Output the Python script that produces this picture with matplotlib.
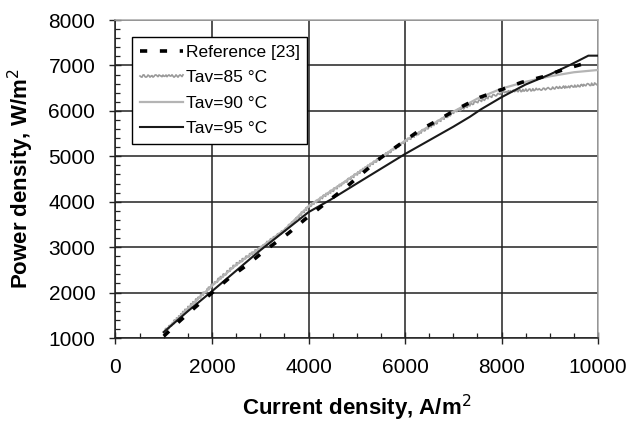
import matplotlib
matplotlib.use("Agg")
import matplotlib.pyplot as plt
from matplotlib.ticker import MultipleLocator

plt.rcParams['font.family'] = ['Liberation Sans', 'DejaVu Sans']

# Reference [23]
ref_x = [1000, 1337, 1650, 2027, 2373, 2753, 3064, 3582, 3927, 4792, 5482, 6311, 6690, 7071, 7555, 8419, 8866, 9316, 9731, 9850]
ref_y = [1040, 1380, 1676, 2019, 2336, 2629, 2900, 3304, 3613, 4331, 4955, 5578, 5798, 6034, 6298, 6628, 6752, 6921, 7046, 7070]

# Tav = 85 °C
t85_x = [1000, 1500, 2000, 2500, 3000, 3500, 4000, 5000, 6000, 7000, 7500, 8000, 8300, 8700, 9000, 9500, 10000]
t85_y = [1130, 1660, 2160, 2620, 2990, 3370, 3890, 4610, 5330, 5960, 6200, 6400, 6440, 6470, 6495, 6540, 6600]

# Tav = 90 °C
t90_x = [1000, 1500, 2000, 2500, 3000, 3500, 4000, 5000, 6000, 7000, 7500, 8000, 8500, 9000, 9500, 10000]
t90_y = [1130, 1650, 2150, 2610, 2990, 3380, 3900, 4620, 5340, 5980, 6270, 6490, 6640, 6760, 6850, 6900]

# Tav = 95 °C
t95_x = [1000, 1500, 2000, 3000, 4000, 4446, 5000, 6000, 7000, 7347, 7575, 8000, 8500, 9000, 9420, 9800, 10000]
t95_y = [1130, 1590, 2030, 2930, 3770, 4037, 4400, 5050, 5650, 5871, 6034, 6300, 6580, 6800, 7010, 7215, 7215]

x_ticks = [0, 2000, 4000, 6000, 8000, 10000]
y_ticks = [1000, 2000, 3000, 4000, 5000, 6000, 7000, 8000]

fig = plt.figure(figsize=(6.30, 4.23), dpi=100)
ax = fig.add_axes([115.5 / 630, 85 / 423, 482.5 / 630, 318 / 423])

ax.plot(ref_x, ref_y, color='black', lw=2.6, dashes=(2, 3.5), label='Reference [23]', zorder=5)
l85, = ax.plot(t85_x, t85_y, color='#9a9a9a', lw=1.2, label='Tav=85 °C', zorder=3)
l85.set_sketch_params(scale=1.2, length=4, randomness=2)
ax.plot(t90_x, t90_y, color='#b4b4b4', lw=1.6, label='Tav=90 °C', zorder=3)
ax.plot(t95_x, t95_y, color='#1a1a1a', lw=1.5, label='Tav=95 °C', zorder=4)

ax.set_xlim(0, 10000)
ax.set_ylim(1000, 8000)
ax.set_xticks(x_ticks)
ax.set_yticks(y_ticks)
ax.xaxis.set_minor_locator(MultipleLocator(500))
ax.yaxis.set_minor_locator(MultipleLocator(200))
ax.tick_params(which='major', direction='inout', length=9, width=1.0, labelsize=15, color='#222222')
ax.tick_params(which='minor', direction='in', length=3.5, width=0.9, color='#222222')
ax.tick_params(axis='x', which='major', pad=10)
ax.tick_params(axis='y', which='major', pad=10)

ax.grid(True, which='major', color='#222222', lw=1.1)
ax.set_axisbelow(True)
for s in ['left', 'bottom']:
    ax.spines[s].set_color('#222222')
    ax.spines[s].set_linewidth(1.1)
for s in ['top', 'right']:
    ax.spines[s].set_color('#aaaaaa')
    ax.spines[s].set_linewidth(1.1)

ax.set_xlabel('Current density, A/m$^2$', fontsize=16, fontweight='bold', labelpad=11)
ax.set_ylabel('Power density, W/m$^2$', fontsize=16, fontweight='bold', labelpad=9)

leg = ax.legend(loc='upper left', bbox_to_anchor=(0.0336, 0.9475), fontsize=12.5,
                frameon=True, fancybox=False, framealpha=1, edgecolor='black',
                handlelength=2.5, handletextpad=0.15, labelspacing=0.6,
                borderpad=0.45, borderaxespad=0)
leg.get_frame().set_linewidth(1.0)

fig.savefig('out.png', dpi=100)
